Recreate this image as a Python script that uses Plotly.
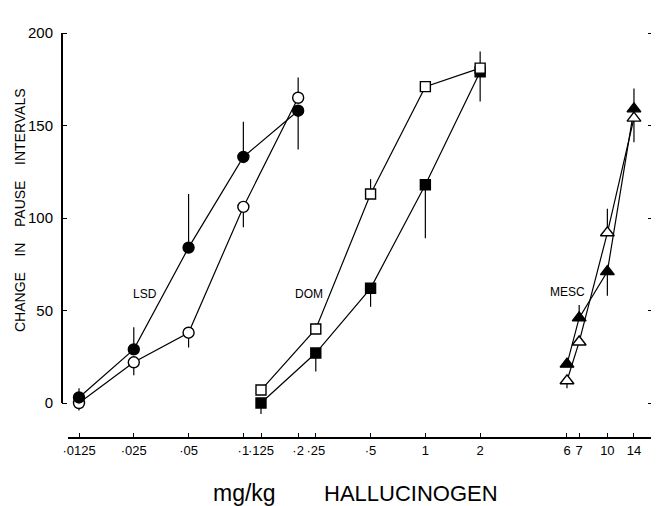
import plotly.graph_objects as go
import math

# ---- data ----
lsd_dose = [0.0125, 0.025, 0.05, 0.1, 0.2]
lsd_filled = [3, 29, 84, 133, 158]
lsd_filled_up = [5, 12, 29, 19, 0]
lsd_filled_down = [0, 0, 0, 0, 21]
lsd_open = [0, 22, 38, 106, 165]
lsd_open_up = [0, 0, 0, 0, 11]
lsd_open_down = [4, 7, 8, 11, 0]

dom_dose = [0.125, 0.25, 0.5, 1, 2]
dom_open = [7, 40, 113, 171, 181]
dom_open_up = [0, 3, 8, 3, 9]
dom_open_down = [0, 0, 0, 0, 0]
dom_filled = [0, 27, 62, 118, 179]
dom_filled_up = [0, 0, 0, 0, 0]
dom_filled_down = [6, 10, 10, 29, 16]

mesc_dose = [6, 7, 10, 14]
mesc_filled = [21, 46, 71, 159]
mesc_filled_up = [0, 7, 0, 11]
mesc_filled_down = [0, 0, 13, 0]
mesc_open = [12, 33, 92, 154]
mesc_open_up = [0, 0, 13, 0]
mesc_open_down = [4, 0, 0, 13]

x_tickvals = [0.0125, 0.025, 0.05, 0.1, 0.125, 0.2, 0.25, 0.5, 1, 2, 6, 7, 10, 14]
x_ticktext = ["·0125", "·025", "·05", "·1", "·125", "·2", "·25", "·5", "1", "2", "6", "7", "10", "14"]
y_tickvals = [0, 50, 100, 150, 200]

FONT = "Liberation Sans, Arial, Helvetica, sans-serif"
INK = "black"

fig = go.Figure()


def add_series(x, y, up, down, symbol, filled, size):
    fig.add_trace(go.Scatter(
        x=x, y=y, mode="lines+markers",
        line=dict(color=INK, width=1.2),
        marker=dict(symbol=symbol, size=size,
                    color=INK if filled else "white",
                    line=dict(color=INK, width=1.4)),
        error_y=dict(type="data", symmetric=False, array=up, arrayminus=down,
                     color=INK, thickness=1.2, width=0),
        showlegend=False,
    ))


add_series(lsd_dose, lsd_open, lsd_open_up, lsd_open_down, "circle", False, 11)
add_series(lsd_dose, lsd_filled, lsd_filled_up, lsd_filled_down, "circle", True, 11)
add_series(dom_dose, dom_filled, dom_filled_up, dom_filled_down, "square", True, 10)
add_series(dom_dose, dom_open, dom_open_up, dom_open_down, "square", False, 10)
add_series(mesc_dose, mesc_filled, mesc_filled_up, mesc_filled_down, "triangle-up", True, 12)
add_series(mesc_dose, mesc_open, mesc_open_up, mesc_open_down, "triangle-up", False, 12)

# The page body adds an 8px offset; work in screen pixels, convert to figure pixels.
OFF = 8
W, H = 659, 506
SL, SR, ST, SB = 62, 653, 20, 438          # plot area in screen px
L, R, T, B = SL - OFF, W - (SR - OFF), ST - OFF, H - (SB - OFF)
pw, ph = SR - SL, SB - ST
Y0_PX, Y200_PX = 403, 33
X_LINE_START = 68
ppd = 182.0  # pixels per decade (screen)

y_scale = (Y0_PX - Y200_PX) / 200.0
y_min = -(SB - Y0_PX) / y_scale
y_max = y_min + ph / y_scale
x_left = math.log10(0.0125) - (79 - SL) / ppd
x_right = x_left + pw / ppd


def px(xs):  # screen x -> paper
    return (xs - SL) / pw


def py(ys):  # screen y -> paper
    return (SB - ys) / ph


def pv(v):   # y data value -> paper
    return (v - y_min) / (y_max - y_min)


shapes = [
    dict(type="line", xref="paper", yref="paper", x0=0, x1=0,
         y0=pv(y_tickvals[0]), y1=pv(y_tickvals[-1]),
         line=dict(color=INK, width=2)),
    dict(type="line", xref="paper", yref="paper", x0=px(X_LINE_START), x1=1,
         y0=0, y1=0, line=dict(color=INK, width=2)),
]

fig.update_layout(
    width=W, height=H,
    margin=dict(l=L, r=R, t=T, b=B),
    paper_bgcolor="white", plot_bgcolor="white",
    font=dict(family=FONT, color=INK, size=13),
    xaxis=dict(type="log", range=[x_left, x_right],
               tickvals=x_tickvals, ticktext=x_ticktext, tickangle=0,
               ticks="inside", ticklen=5, tickwidth=1.2, tickcolor=INK,
               showline=False,
               showgrid=False, zeroline=False, automargin=False,
               ticklabelstandoff=3,
               tickfont=dict(size=13, family=FONT, color=INK)),
    yaxis=dict(range=[y_min, y_max], tickvals=y_tickvals,
               ticks="inside", ticklen=5, tickwidth=1.4, tickcolor=INK,
               mirror="ticks",
               showline=False, showgrid=False, zeroline=False, automargin=False,
               ticklabelstandoff=8,
               tickfont=dict(size=15, family=FONT, color=INK)),
    shapes=shapes,
    annotations=[
        dict(text="CHANGE\u00a0\u00a0\u00a0\u00a0IN\u00a0\u00a0\u00a0\u00a0PAUSE\u00a0\u00a0\u00a0\u00a0INTERVALS",
             textangle=-90, xref="paper", yref="paper", x=px(20), y=py(210),
             xanchor="center", yanchor="middle",
             showarrow=False, font=dict(size=14, family=FONT, color=INK)),
        dict(text="mg/kg", xref="paper", yref="paper", x=px(244), y=py(508),
             xanchor="center", yanchor="bottom",
             showarrow=False, font=dict(size=23, family=FONT, color=INK)),
        dict(text="HALLUCINOGEN", xref="paper", yref="paper", x=px(411), y=py(508),
             xanchor="center", yanchor="bottom",
             showarrow=False, font=dict(size=22, family=FONT, color=INK)),
        dict(text="LSD", xref="paper", yref="paper", x=px(145), y=py(294),
             xanchor="center", yanchor="middle",
             showarrow=False, font=dict(size=12, family=FONT, color=INK)),
        dict(text="DOM", xref="paper", yref="paper", x=px(309), y=py(294),
             xanchor="center", yanchor="middle",
             showarrow=False, font=dict(size=12, family=FONT, color=INK)),
        dict(text="MESC", xref="paper", yref="paper", x=px(567), y=py(292),
             xanchor="center", yanchor="middle",
             showarrow=False, font=dict(size=12, family=FONT, color=INK)),
    ],
)

fig.write_html("out.html")
